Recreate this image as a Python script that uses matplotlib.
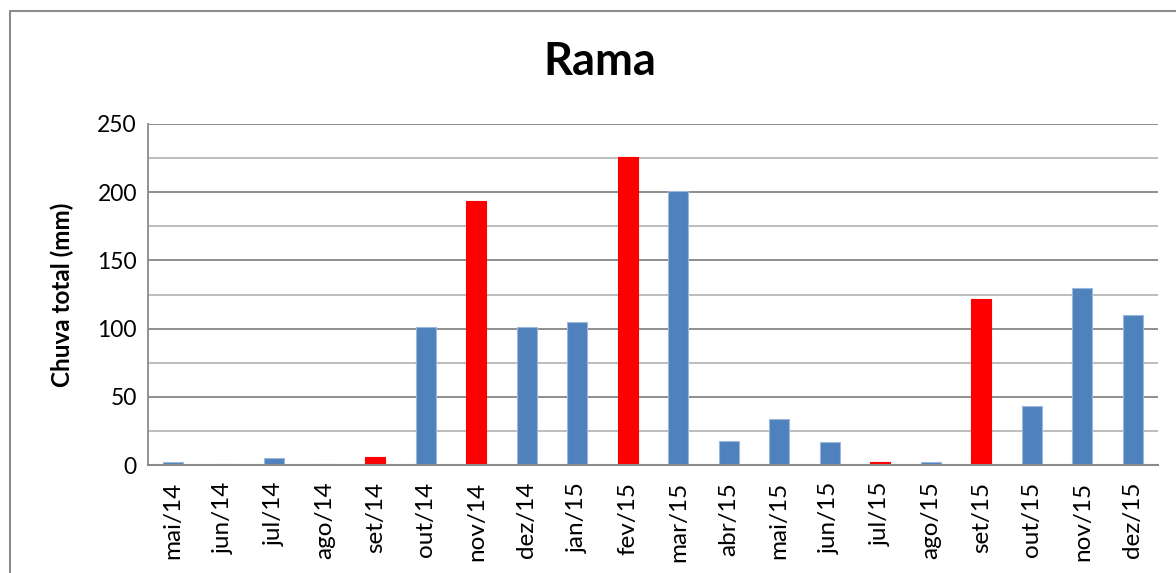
import matplotlib
matplotlib.use("Agg")
import matplotlib.pyplot as plt
from matplotlib.patches import Rectangle

months = ["mai/14", "jun/14", "jul/14", "ago/14", "set/14", "out/14", "nov/14",
          "dez/14", "jan/15", "fev/15", "mar/15", "abr/15", "mai/15", "jun/15",
          "jul/15", "ago/15", "set/15", "out/15", "nov/15", "dez/15"]
rain_mm = [2.4, 0.5, 5.0, 0.5, 6.0, 101.0, 193.5, 101.0, 104.5, 225.5,
           201.0, 17.5, 34.0, 17.0, 2.2, 2.0, 121.5, 43.5, 130.0, 110.0]
highlight = ["set/14", "nov/14", "fev/15", "jul/15", "set/15"]

y_ticks = [0, 50, 100, 150, 200, 250]
y_grid_minor = [25, 75, 125, 175, 225]

plt.rcParams["font.family"] = ["Lato", "DejaVu Sans"]

W, H = 1176, 573
fig = plt.figure(figsize=(W / 100, H / 100), dpi=100)
fig.patch.set_facecolor("white")

# outer chart frame
fig.patches.append(Rectangle((9.5 / W, -0.1), 1.2, (H - 10.5) / H + 0.1,
                             transform=fig.transFigure, fill=False,
                             edgecolor="#8c8c8c", linewidth=1.5))

ax = fig.add_axes([148 / W, (H - 465) / H, (1158 - 148) / W, (465 - 124) / H])

x = list(range(len(months)))
colors = ["#FF0000" if m in highlight else "#4F81BD" for m in months]
edges = ["#FF0000" if m in highlight else "#9CB8DC" for m in months]
ax.bar(x, rain_mm, width=0.4, color=colors, edgecolor=edges, linewidth=0.8, zorder=3)

ax.set_xlim(-0.5, len(months) - 0.5)
ax.set_ylim(0, 250)
ax.set_yticks(y_ticks)
ax.set_yticklabels([str(v) for v in y_ticks], fontsize=16.5)
for v in y_ticks[1:]:
    ax.axhline(v, color="#868686", linewidth=1.3, zorder=1)
for v in y_grid_minor:
    ax.axhline(v, color="#b8b8b8", linewidth=1.3, zorder=1)

ax.set_xticks(x)
ax.set_xticklabels(months, rotation=90, fontsize=17.5, va="top", ha="center")
ax.tick_params(axis="both", length=0)
ax.tick_params(axis="x", pad=12)
ax.tick_params(axis="y", pad=8)

for side in ["top", "right"]:
    ax.spines[side].set_visible(False)
ax.spines["left"].set_color("#8a8a8a")
ax.spines["bottom"].set_color("#8a8a8a")
ax.spines["left"].set_linewidth(1.3)
ax.spines["bottom"].set_linewidth(1.5)
ax.spines["bottom"].set_zorder(4)

ax.set_ylabel("Chuva total (mm)", fontsize=17.5, fontweight="bold")
ax.yaxis.set_label_coords((74 - 148) / (1158 - 148), 0.5)
fig.text(600 / W, 1 - 62 / H, "Rama", fontsize=32.5, fontweight="bold",
         ha="center", va="center")

fig.savefig("out.png", dpi=100)
